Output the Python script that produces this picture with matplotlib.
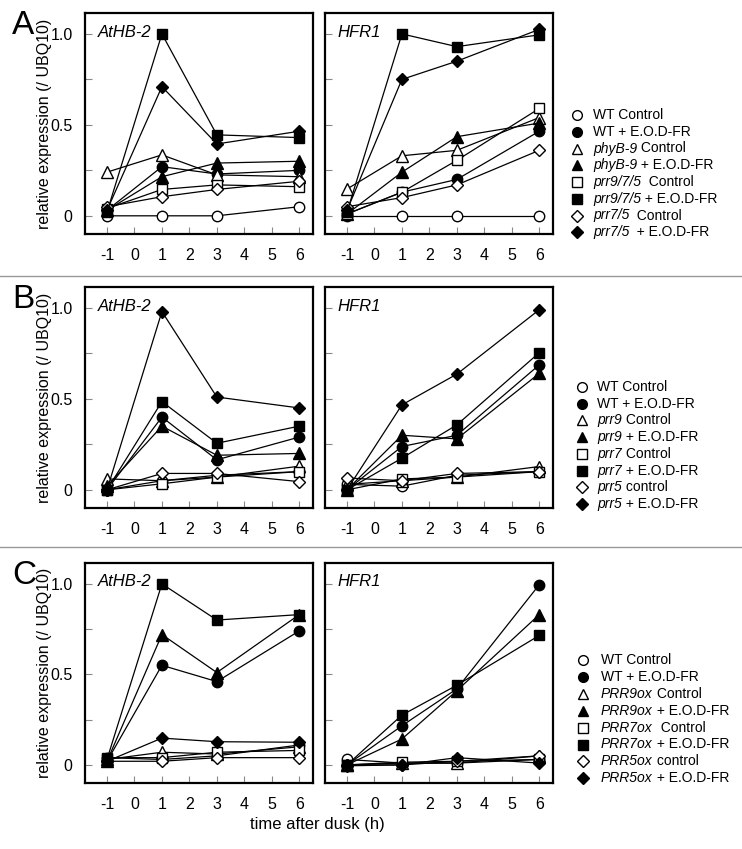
import matplotlib
matplotlib.use("Agg")
import matplotlib.pyplot as plt
from matplotlib.lines import Line2D

plt.rcParams['font.family'] = ['Liberation Sans', 'DejaVu Sans']
plt.rcParams['axes.unicode_minus'] = False

times = [-1, 1, 3, 6]
xticks = [-1, 0, 1, 2, 3, 4, 5, 6]

# series order: WT ctrl, WT EOD, mut1 ctrl, mut1 EOD, mut2 ctrl, mut2 EOD, mut3 ctrl, mut3 EOD
a_athb2 = [
    [0.0, 0.0, 0.0, 0.05],
    [0.03, 0.27, 0.23, 0.25],
    [0.24, 0.335, 0.225, 0.215],
    [0.03, 0.215, 0.29, 0.30],
    [0.04, 0.145, 0.17, 0.16],
    [0.02, 1.0, 0.445, 0.43],
    [0.05, 0.105, 0.145, 0.19],
    [0.03, 0.71, 0.395, 0.465],
]
a_hfr1 = [
    [0.0, 0.0, 0.0, 0.0],
    [0.01, 0.13, 0.20, 0.465],
    [0.147, 0.33, 0.36, 0.54],
    [0.01, 0.24, 0.435, 0.51],
    [0.01, 0.13, 0.305, 0.59],
    [0.02, 1.0, 0.93, 0.995],
    [0.05, 0.10, 0.17, 0.36],
    [0.03, 0.75, 0.85, 1.025],
]
b_athb2 = [
    [0.0, 0.05, 0.08, 0.10],
    [0.0, 0.40, 0.165, 0.29],
    [0.06, 0.05, 0.07, 0.13],
    [0.02, 0.35, 0.19, 0.20],
    [0.0, 0.033, 0.07, 0.10],
    [0.0, 0.485, 0.256, 0.35],
    [0.0, 0.09, 0.09, 0.045],
    [0.0, 0.98, 0.51, 0.45],
]
b_hfr1 = [
    [0.03, 0.02, 0.08, 0.10],
    [0.0, 0.238, 0.30, 0.687],
    [0.03, 0.05, 0.07, 0.128],
    [0.0, 0.30, 0.28, 0.64],
    [0.0, 0.06, 0.07, 0.10],
    [0.0, 0.174, 0.357, 0.754],
    [0.065, 0.05, 0.09, 0.10],
    [0.0, 0.467, 0.636, 0.99],
]
c_athb2 = [
    [0.04, 0.03, 0.05, 0.11],
    [0.02, 0.55, 0.46, 0.74],
    [0.03, 0.07, 0.06, 0.10],
    [0.02, 0.72, 0.51, 0.83],
    [0.04, 0.04, 0.07, 0.08],
    [0.03, 1.0, 0.80, 0.83],
    [0.02, 0.02, 0.04, 0.04],
    [0.02, 0.148, 0.128, 0.125],
]
c_hfr1 = [
    [0.03, 0.01, 0.01, 0.03],
    [0.0, 0.216, 0.42, 0.995],
    [0.0, 0.01, 0.01, 0.05],
    [0.0, 0.143, 0.41, 0.83],
    [0.0, 0.015, 0.02, 0.03],
    [0.0, 0.275, 0.44, 0.715],
    [-0.005, 0.0, 0.02, 0.05],
    [0.0, 0.0, 0.04, 0.01],
]

legend_a = [("", "WT Control"), ("", "WT + E.O.D-FR"),
            ("phyB-9", " Control"), ("phyB-9", " + E.O.D-FR"),
            ("prr9/7/5", "  Control"), ("prr9/7/5", " + E.O.D-FR"),
            ("prr7/5", "  Control"), ("prr7/5", "  + E.O.D-FR")]
legend_b = [("", "WT Control"), ("", "WT + E.O.D-FR"),
            ("prr9", " Control"), ("prr9", " + E.O.D-FR"),
            ("prr7", " Control"), ("prr7", " + E.O.D-FR"),
            ("prr5", " control"), ("prr5", " + E.O.D-FR")]
legend_c = [("", "WT Control"), ("", "WT + E.O.D-FR"),
            ("PRR9ox", " Control"), ("PRR9ox", " + E.O.D-FR"),
            ("PRR7ox", "  Control"), ("PRR7ox", " + E.O.D-FR"),
            ("PRR5ox", " control"), ("PRR5ox", " + E.O.D-FR")]

markers = ['o', 'o', '^', '^', 's', 's', 'D', 'D']
faces = ['white', 'black'] * 4
msizes = [7.5, 7.5, 8, 8, 7, 7, 6.5, 6.5]

W, H = 742, 849
fig = plt.figure(figsize=(W / 100, H / 100), dpi=100)


def px_axes(x0, y0, x1, y1):
    return fig.add_axes([x0 / W, 1 - y1 / H, (x1 - x0) / W, (y1 - y0) / H])


def draw_panel(ax, data, gene, show_ylabels):
    for i, vals in enumerate(data):
        ax.plot(times, vals, color='black', lw=0.9, marker=markers[i],
                ms=msizes[i], mfc=faces[i], mec='black', mew=1.0, zorder=3)
    ax.set_xlim(-1.8, 6.5)
    ax.set_ylim(-0.1, 1.115)
    ax.set_xticks(xticks)
    ax.set_yticks([0, 0.25, 0.5, 0.75, 1.0])
    if show_ylabels:
        ax.set_yticklabels(['0', '', '0.5', '', '1.0'])
    else:
        ax.set_yticklabels([])
    ax.tick_params(direction='in', length=5, width=0.8, color='#888888',
                   labelsize=11.5)
    ax.tick_params(axis='x', pad=10)
    ax.tick_params(axis='y', pad=9)
    for s in ax.spines.values():
        s.set_linewidth(1.6)
    ax.text(0.055, 0.914, gene, transform=ax.transAxes, style='italic',
            fontsize=12, va='center', ha='left')


def draw_legend(entries, xm, xt, y0, dy):
    r = fig.canvas.get_renderer()
    for i, (ital, rest) in enumerate(entries):
        y = 1 - (y0 + i * dy) / H
        fig.add_artist(Line2D([xm / W], [y], marker=markers[i], ms=msizes[i] - 0.5,
                              mfc=faces[i], mec='black', mew=1.0, ls='none'))
        x = xt / W
        if ital:
            t = fig.text(x, y, ital, style='italic', fontsize=10, va='center', ha='left')
            bb = t.get_window_extent(renderer=r)
            x = bb.x1 / W
        fig.text(x, y, rest, fontsize=10, va='center', ha='left')


panels = [
    ("A", 13, 234, a_athb2, a_hfr1, legend_a, 577, 593, 115, 16.75),
    ("B", 287, 508, b_athb2, b_hfr1, legend_b, 582, 597, 387, 16.7),
    ("C", 563, 783, c_athb2, c_hfr1, legend_c, 583, 601, 660, 16.9),
]

for letter, top, bot, d1, d2, leg, xm, xt, ly0, ldy in panels:
    ax1 = px_axes(85, top, 313, bot)
    ax2 = px_axes(325, top, 553, bot)
    draw_panel(ax1, d1, "AtHB-2", True)
    draw_panel(ax2, d2, "HFR1", False)
    ax1.set_ylabel("relative expression (/ UBQ10)", fontsize=11.5, va='center')
    ax1.yaxis.set_label_coords(-0.178, 0.5)
    fig.text(12 / W, 1 - (top + 12) / H, letter, fontsize=24, va='center', ha='left')
    draw_legend(leg, xm, xt, ly0, ldy)

for yy in [276, 547]:
    fig.add_artist(Line2D([0, 1], [1 - yy / H] * 2, color='#999999', lw=1))

fig.text(317 / W, 1 - 825 / H, "time after dusk (h)", fontsize=12, ha='center', va='center')

fig.savefig("out.png", dpi=100)
